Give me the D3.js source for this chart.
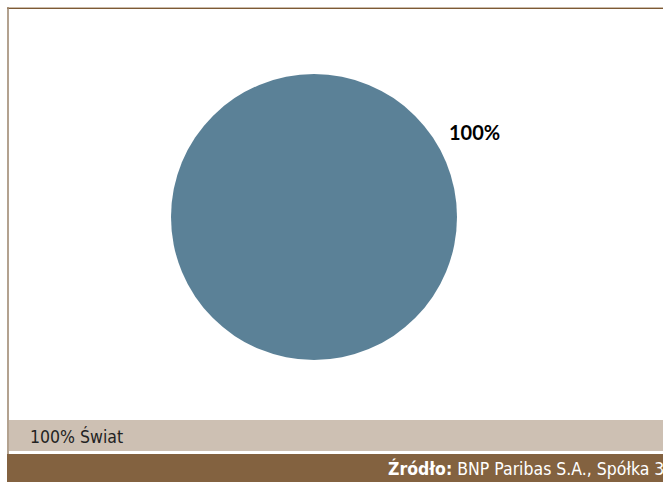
<!DOCTYPE html>
<html>
<head>
<meta charset="utf-8">
<script src="https://cdn.jsdelivr.net/npm/d3@7"></script>
<style>
  html, body { margin: 0; background: #fff; overflow: hidden; }
  svg { display: block; }
</style>
</head>
<body>
<div class="canvas"></div>
<script>
// data
const categories = ['Świat']
const values = [100]
const sourceBold = 'Źródło:'
const sourceText = ' BNP Paribas S.A., Spółka 3'

const dims = { width: 663, height: 482, radius: 143 }
const cent = { x: 314, y: 217 }

const svg = d3.select('.canvas')
    .append('svg')
    .attr('width', dims.width)
    .attr('height', dims.height)

// frame
svg.append('line')
    .attr('x1', 7).attr('x2', dims.width).attr('y1', 7.5).attr('y2', 7.5)
    .attr('stroke', '#cbbba9').attr('stroke-width', 1)
svg.append('line')
    .attr('x1', 7).attr('x2', dims.width).attr('y1', 8.5).attr('y2', 8.5)
    .attr('stroke', '#7d5a35').attr('stroke-width', 1)
svg.append('line')
    .attr('x1', 8).attr('x2', 8).attr('y1', 7).attr('y2', 482)
    .attr('stroke', '#a08b74').attr('stroke-width', 1.6)

const graph = svg.append('g')
    .attr('transform', `translate(${cent.x},${cent.y})`)

const pie = d3.pie().sort(null).value(d => d)
const arcPath = d3.arc().outerRadius(dims.radius).innerRadius(0)
const colour = d3.scaleOrdinal().domain(categories).range(['#5b8197'])

const angles = pie(values)

graph.selectAll('path')
    .data(angles)
    .enter()
    .append('path')
    .attr('d', arcPath)
    .attr('fill', (d, i) => colour(categories[i]))

const total = d3.sum(values)
graph.selectAll('text.lbl')
    .data(angles)
    .enter()
    .append('text')
    .attr('class', 'lbl')
    .attr('x', 135)
    .attr('y', -77)
    .attr('font-family', 'Lato, sans-serif')
    .attr('font-weight', 700)
    .attr('font-size', 20)
    .attr('fill', '#000')
    .text(d => Math.round(d.data / total * 100) + '%')

// legend band
svg.append('rect')
    .attr('x', 9).attr('y', 420).attr('width', dims.width).attr('height', 31)
    .attr('fill', '#cdc0b3')

const legendGroup = svg.append('g').attr('transform', 'translate(30, 443)')
legendGroup.selectAll('text')
    .data(categories)
    .enter()
    .append('text')
    .attr('font-family', '"DejaVu Sans Condensed", "Roboto", sans-serif')
    .attr('font-size', 17.5)
    .attr('fill', '#222')
    .text((d, i) => Math.round(values[i] / total * 100) + '% ' + d)

// source band
svg.append('rect')
    .attr('x', 7).attr('y', 454).attr('width', dims.width).attr('height', 28)
    .attr('fill', '#836240')

const src = svg.append('text')
    .attr('x', 388).attr('y', 475)
    .attr('font-family', '"DejaVu Sans Condensed", "Roboto", sans-serif')
    .attr('font-size', 17.5)
    .attr('fill', '#fff')
src.append('tspan').attr('font-weight', 'bold').text(sourceBold)
src.append('tspan').text(sourceText)
</script>
</body>
</html>
